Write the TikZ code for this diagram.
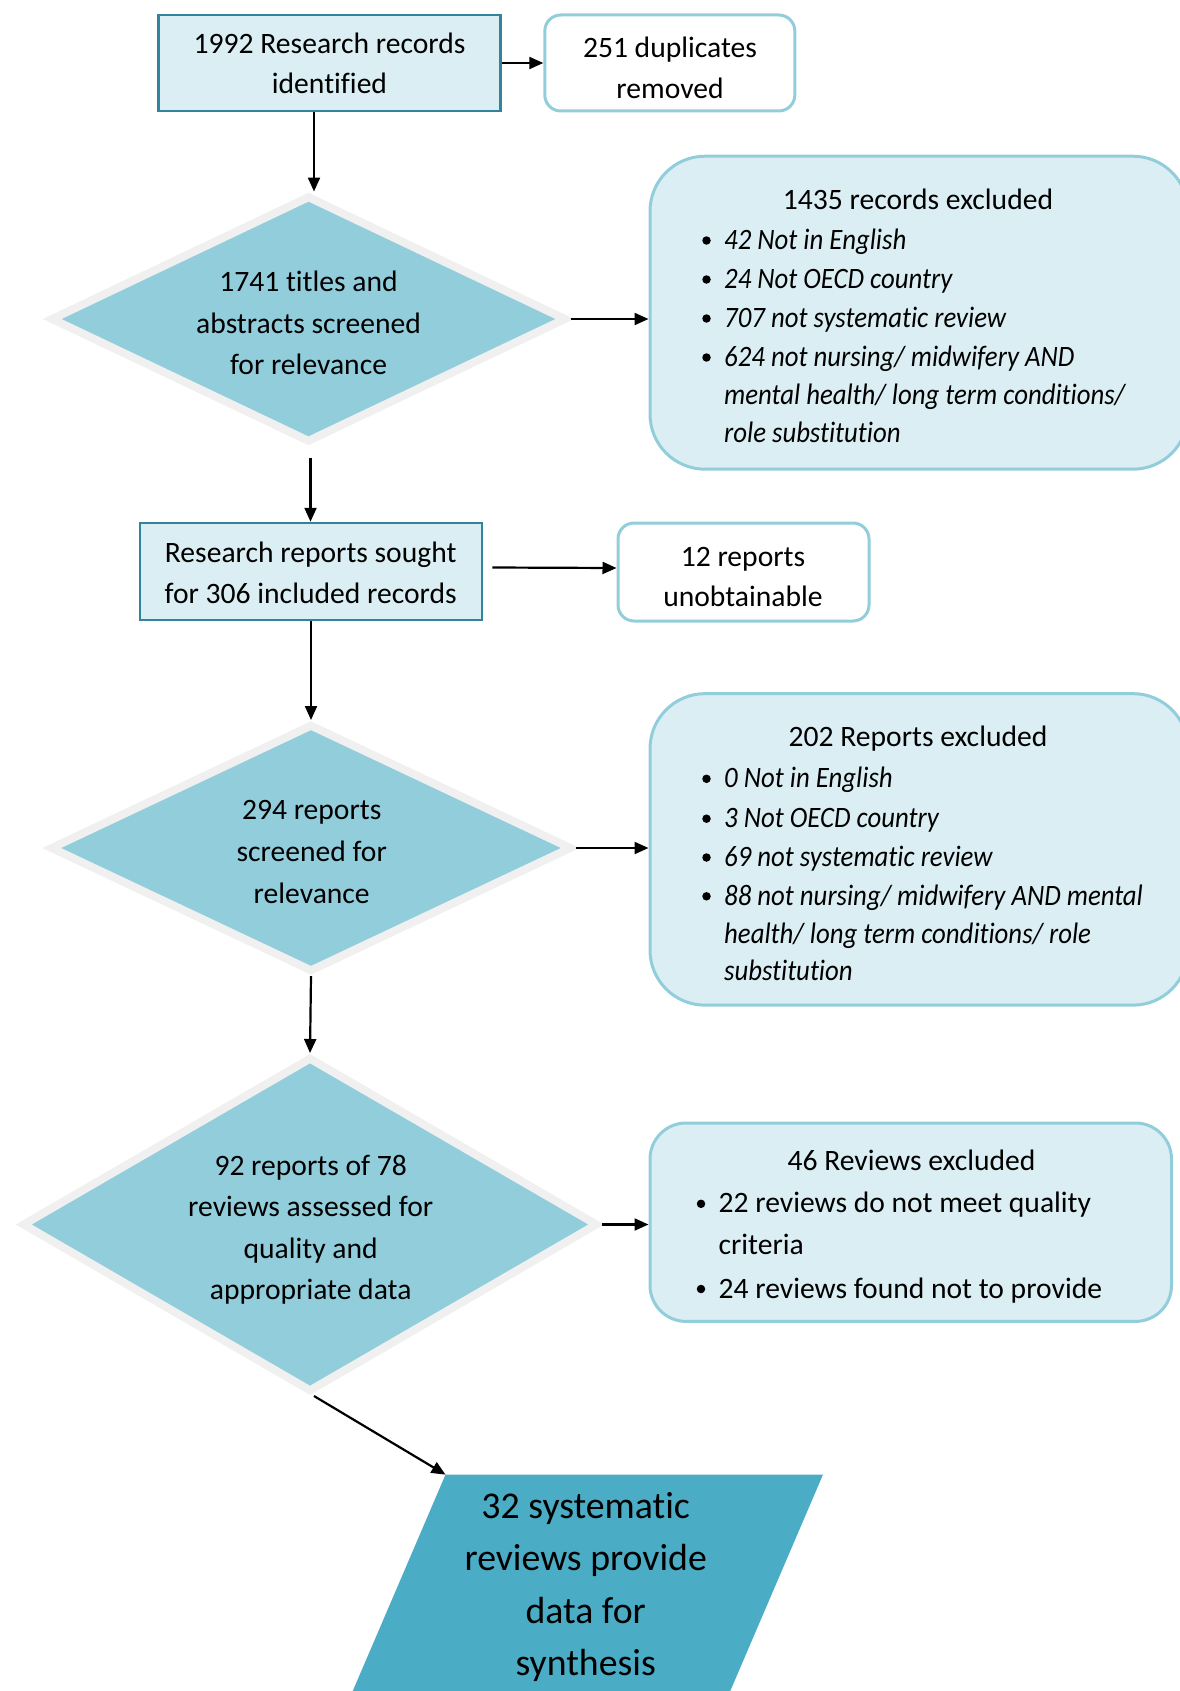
\documentclass[tikz,border=0pt]{standalone}
\usepackage{fontspec}
\setmainfont{Carlito}[Ligatures={NoCommon},ItalicFeatures={FakeStretch=0.905}]
\usetikzlibrary{arrows.meta,shapes.geometric}
\definecolor{lightfill}{HTML}{DAEEF3}
\definecolor{tealline}{HTML}{31849B}
\definecolor{paleline}{HTML}{92CDDC}
\definecolor{diafill}{HTML}{92CDDC}
\definecolor{diaedge}{HTML}{F0F0F0}
\definecolor{parfill}{HTML}{4BACC6}
\begin{document}
\begin{tikzpicture}[x=1pt,y=-1pt,
  mainbox/.style={rectangle, draw=tealline, fill=lightfill, line width=2.5pt, inner sep=0pt},
  dupbox/.style={rectangle, rounded corners=16pt, draw=paleline, fill=white, line width=3pt, inner sep=0pt},
  exbox/.style={rectangle, rounded corners=55pt, draw=paleline, fill=lightfill, line width=3pt, inner sep=0pt},
  dia/.style={diamond, draw=diaedge, fill=diafill, line width=8pt, inner sep=0pt},
  arr/.style={-{Triangle[length=14pt,width=12pt]}, line width=2.2pt, black},
  txt/.style={anchor=base, inner sep=0pt, font=\fontsize{29.6}{35}\selectfont},
  ltxt/.style={anchor=base west, inner sep=0pt, font=\fontsize{29.6}{35}\selectfont},
  itx/.style={anchor=base west, inner sep=0pt, font=\fontsize{29.6}{35}\selectfont\itshape},
  bigtxt/.style={anchor=base, inner sep=0pt, font=\fontsize{37.8}{44}\selectfont},
  bul/.style={circle, fill=black, minimum size=8.5pt, inner sep=0pt}]

\useasboundingbox (0,0) rectangle (1179,1691);

% shapes
\node[mainbox, minimum width=342pt, minimum height=96pt] (b1) at (329.5,63) {};
\node[dupbox, minimum width=250pt, minimum height=96pt] (b2) at (669.8,63) {};
\node[dia, minimum width=516pt, minimum height=247pt] (d1) at (308.5,319) {};
\node[exbox, minimum width=538pt, minimum height=313pt] (e1) at (919,312.7) {};
\node[mainbox, minimum width=342pt, minimum height=97pt] (b3) at (311,571.5) {};
\node[dupbox, minimum width=251pt, minimum height=98pt] (b4) at (743.5,572) {};
\node[dia, minimum width=522pt, minimum height=248pt] (d2) at (311,848) {};
\node[exbox, minimum width=538pt, minimum height=311.5pt] (e2) at (919,849.4) {};
\node[dia, minimum width=576pt, minimum height=335pt] (d3) at (310,1224.5) {};
\node[exbox, rounded corners=36pt, minimum width=521.5pt, minimum height=198.4pt] (e3) at (910.75,1222.2) {};
\fill[parfill] (445.5,1474.6) -- (823,1474.6) -- (717.8,1720) -- (340.3,1720) -- cycle;
\coordinate (ptl) at (445.5,1474.6);

% connectors
\draw[arr] (b1.east) -- (b2.west);
\draw[arr] ([shift={(-15.5,0)}]b1.south) -- ([shift={(5.5,0)}]d1.north);
\draw[arr] (d1.east) -- (d1.east -| e1.west);
\draw[arr] ([shift={(2,11)}]d1.south) -- ([shift={(2,0)}]d1.south |- b3.north);
\draw[arr] ([shift={(9,-4)}]b3.east) -- ([shift={(0,-4)}]b4.west);
\draw[arr] (b3.south) -- (d2.north);
\draw[arr] (d2.east) -- (d2.east -| e2.west);
\draw[arr] (d2.south) -- (d3.north);
\draw[arr] (d3.east) -- (d3.east -| e3.west);
\draw[arr] ([shift={(4,0)}]d3.south) -- (ptl);

% texts
\node[txt] (b1a) at (329.5,53.3) {1992 Research records};
\node[txt] (b1b) at (329.5,93.5) {identified};
\node[txt] (b2a) at (670,57.5) {251 duplicates};
\node[txt] (b2b) at (670,98.5) {removed};

\node[txt] (d1a) at (308.5,291.5) {1741 titles and};
\node[txt] (d1b) at (308.5,333) {abstracts screened};
\node[txt] (d1c) at (308.5,374.5) {for relevance};

\node[txt] (e1t) at (918,209.5) {1435 records excluded};
\node[bul] (e1p1) at (706.5,240.5) {};
\node[itx] (e1a) at (724,249.5) {42 Not in English};
\node[bul] (e1p2) at (706.5,279.5) {};
\node[itx] (e1b) at (724,288.5) {24 Not OECD country};
\node[bul] (e1p3) at (706.5,318.5) {};
\node[itx] (e1c) at (724,327.5) {707 not systematic review};
\node[bul] (e1p4) at (706.5,357.5) {};
\node[itx] (e1d) at (724,366.5) {624 not nursing/ midwifery AND};
\node[itx] (e1e) at (724,404.5) {mental health/ long term conditions/};
\node[itx] (e1f) at (724,442.5) {role substitution};

\node[txt] (b3a) at (310.7,562) {Research reports sought};
\node[txt] (b3b) at (310.7,603) {for 306 included records};
\node[txt] (b4a) at (743,566.5) {12 reports};
\node[txt] (b4b) at (743,606.5) {unobtainable};

\node[txt] (d2a) at (311.7,819) {294 reports};
\node[txt] (d2b) at (311.7,861) {screened for};
\node[txt] (d2c) at (311.7,903) {relevance};

\node[txt] (e2t) at (918,746.8) {202 Reports excluded};
\node[bul] (e2p1) at (706.5,778.8) {};
\node[itx] (e2a) at (724,787.8) {0 Not in English};
\node[bul] (e2p2) at (706.5,818.7) {};
\node[itx] (e2b) at (724,827.7) {3 Not OECD country};
\node[bul] (e2p3) at (706.5,857.5) {};
\node[itx] (e2c) at (724,866.5) {69 not systematic review};
\node[bul] (e2p4) at (706.5,896.3) {};
\node[itx] (e2d) at (724,905.3) {88 not nursing/ midwifery AND mental};
\node[itx] (e2e) at (724,943) {health/ long term conditions/ role};
\node[itx] (e2f) at (724,980.8) {substitution};

\node[txt] (d3a) at (310.7,1175) {92 reports of 78};
\node[txt] (d3b) at (310.7,1216) {reviews assessed for};
\node[txt] (d3c) at (310.7,1258) {quality and};
\node[txt] (d3d) at (310.7,1299) {appropriate data};

\node[txt] (e3t) at (911.5,1170.7) {46 Reviews excluded};
\node[bul] (e3p1) at (701,1203.8) {};
\node[ltxt] (e3a) at (718.4,1212.8) {22 reviews do not meet quality};
\node[ltxt] (e3b) at (718.4,1254.8) {criteria};
\node[bul] (e3p2) at (701,1289) {};
\node[ltxt] (e3c) at (718.4,1298) {24 reviews found not to provide};

\node[bigtxt] (pa) at (585.7,1518) {32 systematic};
\node[bigtxt] (pb) at (585.7,1570.5) {reviews provide};
\node[bigtxt] (pc) at (585.7,1623) {data for};
\node[bigtxt] (pd) at (585.7,1675.5) {synthesis};
\end{tikzpicture}
\end{document}
